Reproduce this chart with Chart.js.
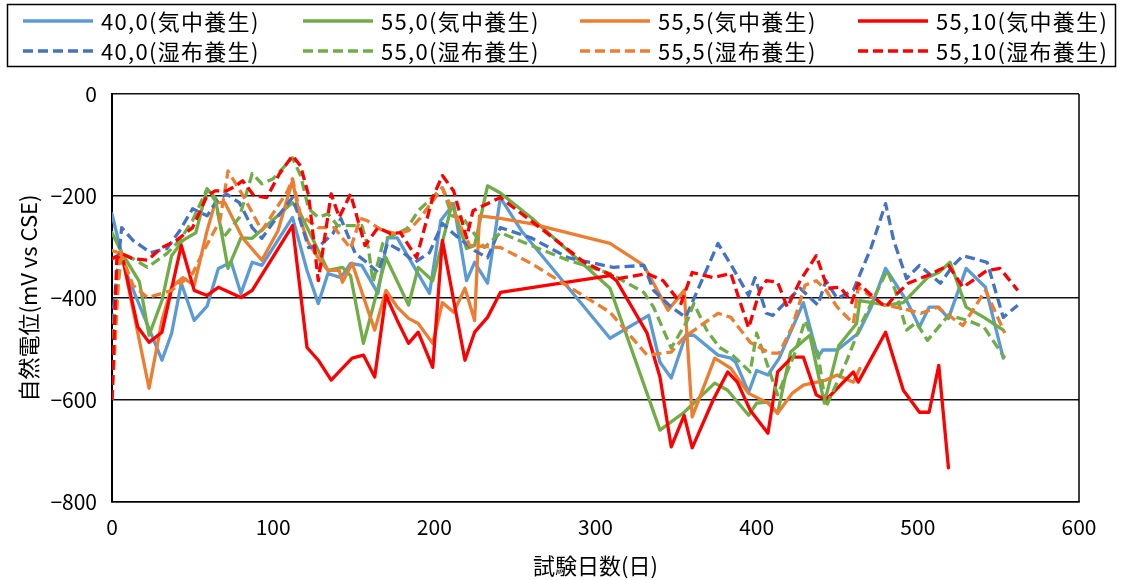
<!DOCTYPE html>
<html><head><meta charset="utf-8">
<script src="https://cdn.jsdelivr.net/npm/chart.js@4/dist/chart.umd.min.js"></script>
<style>html,body{margin:0;padding:0;background:#fff;}#wrap{width:1121px;height:580px;}</style>
</head><body><div id="wrap"><canvas id="c" width="1121" height="580"></canvas></div>
<script>
// ---- data (days, potential mV vs CSE) ----
const days_40_0_air = [0,5,10,31,37,43,51,59,66,74,80,87,93,112,121,128,134,142,148,155,165,171,177,197,204,212,220,225,233,241,254,309,333,340,347,356,361,376,384,387,395,400,407,414,429,438,441,450,463,471,480,493,501,507,513,519,530,542,553];
const vals_40_0_air = [-235,-301,-360,-522,-469,-371,-444,-416,-342,-330,-391,-330,-336,-242,-346,-411,-352,-360,-332,-336,-391,-282,-282,-391,-248,-215,-366,-330,-371,-203,-268,-479,-434,-526,-557,-473,-473,-512,-518,-526,-585,-542,-551,-518,-409,-516,-502,-502,-469,-418,-342,-405,-457,-418,-418,-440,-342,-379,-518];

const days_55_0_air = [0,6,17,23,31,37,44,52,59,64,72,80,87,112,117,134,143,148,156,170,184,190,199,211,220,225,233,241,260,309,340,355,374,382,395,400,407,413,421,433,442,451,462,464,481,491,506,513,520,530,541,553];
const vals_55_0_air = [-272,-311,-368,-473,-405,-317,-287,-272,-186,-203,-342,-282,-283,-213,-235,-346,-340,-356,-489,-321,-414,-340,-366,-215,-303,-297,-180,-194,-242,-381,-659,-624,-567,-581,-630,-606,-604,-626,-506,-473,-606,-493,-450,-405,-414,-409,-360,-350,-330,-418,-438,-463];

const days_55_5_air = [0,6,23,31,37,44,51,59,64,70,81,93,103,112,117,122,129,134,141,143,149,163,170,177,184,190,199,205,212,219,225,228,241,260,309,330,345,355,360,374,384,395,407,413,422,429,443,450,460,464];
const vals_55_5_air = [-307,-313,-577,-444,-379,-360,-375,-268,-213,-213,-282,-326,-268,-170,-248,-293,-326,-346,-346,-369,-332,-463,-385,-418,-440,-450,-489,-409,-428,-381,-444,-239,-244,-254,-293,-336,-424,-385,-633,-518,-538,-587,-606,-626,-587,-571,-561,-551,-565,-538];

const days_55_10_air = [0,6,16,23,31,43,51,59,66,80,87,112,121,128,136,142,149,156,163,170,177,184,190,199,205,219,225,233,241,309,313,332,340,347,355,360,373,382,388,396,407,413,422,429,437,443,460,463,480,491,501,507,513,519];
const vals_55_10_air = [-323,-313,-457,-487,-467,-297,-385,-395,-379,-399,-385,-258,-497,-522,-561,-541,-518,-512,-555,-395,-444,-489,-467,-536,-287,-522,-467,-438,-389,-356,-366,-469,-555,-692,-630,-694,-600,-545,-565,-620,-665,-545,-516,-516,-590,-600,-545,-565,-467,-581,-624,-624,-532,-733];

const days_40_0_wet = [0,6,13,24,34,42,50,59,65,71,79,87,93,100,112,117,122,129,137,142,151,158,165,171,179,188,197,205,212,225,233,241,260,283,311,330,336,347,356,376,385,395,399,406,410,419,427,438,443,450,460,471,480,485,493,501,514,522,528,543,553,562];
const vals_40_0_wet = [-450,-262,-287,-311,-303,-268,-225,-239,-209,-196,-213,-262,-283,-252,-203,-250,-301,-297,-274,-244,-313,-330,-350,-293,-307,-330,-311,-254,-274,-307,-321,-262,-282,-321,-340,-336,-385,-418,-438,-293,-340,-395,-360,-430,-434,-405,-381,-414,-366,-401,-385,-301,-215,-287,-362,-336,-371,-336,-317,-330,-438,-414];

const days_55_0_wet = [0,6,13,22,34,42,50,59,64,69,74,79,87,93,100,112,117,122,128,134,140,148,155,159,162,168,171,183,190,205,211,218,231,241,260,283,309,330,336,347,357,361,369,377,385,396,400,413,424,430,438,443,456,465,481,486,493,499,506,519,531,541,554];
const vals_55_0_wet = [-480,-313,-323,-340,-313,-287,-248,-186,-209,-282,-262,-242,-156,-176,-166,-125,-160,-225,-242,-235,-258,-258,-258,-301,-369,-293,-282,-264,-229,-184,-239,-244,-301,-272,-297,-326,-352,-389,-418,-498,-444,-411,-463,-497,-512,-545,-469,-590,-506,-444,-508,-614,-522,-450,-346,-385,-463,-448,-483,-434,-444,-457,-518];

const days_55_5_wet = [0,5,13,22,31,37,50,56,67,72,82,93,109,112,117,128,138,148,154,158,168,177,184,191,205,211,222,241,260,309,332,347,355,376,384,396,408,414,422,430,437,443,450,460,463,470,479,490,502,512,528,542,554];
const vals_55_5_wet = [-600,-307,-375,-399,-391,-385,-352,-313,-248,-151,-203,-268,-190,-166,-238,-262,-262,-303,-244,-248,-268,-274,-268,-244,-184,-225,-297,-301,-332,-428,-512,-506,-477,-430,-438,-487,-508,-508,-457,-375,-366,-385,-418,-450,-379,-395,-414,-420,-430,-418,-454,-385,-469];

const days_55_10_wet = [0,3,6,13,22,31,40,50,59,64,71,77,81,88,96,104,112,117,122,128,136,141,148,157,165,173,179,189,199,205,212,220,224,233,241,268,293,314,332,342,353,360,373,384,388,395,402,406,413,419,427,437,444,452,459,463,470,480,486,494,506,519,528,543,551,562];
const vals_55_10_wet = [-600,-323,-313,-323,-326,-301,-287,-262,-199,-190,-190,-180,-170,-199,-203,-156,-121,-141,-199,-366,-196,-242,-196,-297,-262,-274,-272,-321,-203,-160,-190,-282,-229,-215,-203,-268,-330,-362,-352,-366,-411,-350,-360,-352,-391,-459,-385,-366,-369,-418,-366,-317,-381,-379,-409,-371,-391,-418,-395,-371,-356,-336,-379,-346,-342,-385];

const seriesLabels = ['40,0(気中養生)','55,0(気中養生)','55,5(気中養生)','55,10(気中養生)','40,0(湿布養生)','55,0(湿布養生)','55,5(湿布養生)','55,10(湿布養生)'];
const xTicks = [0,100,200,300,400,500,600];
const yTicks = [0,-200,-400,-600,-800];
const xTitle = '試験日数(日)';
const yTitle = '自然電位(mV vs CSE)';

// ---- styles ----
const colors = ['#5B9BD5','#70AD47','#ED7D31','#FF0000','#4472C4','#70AD47','#ED7D31','#FF0000'];
const dashed = [false,false,false,false,true,true,true,true];
const dayArr = [days_40_0_air,days_55_0_air,days_55_5_air,days_55_10_air,days_40_0_wet,days_55_0_wet,days_55_5_wet,days_55_10_wet];
const valArr = [vals_40_0_air,vals_55_0_air,vals_55_5_air,vals_55_10_air,vals_40_0_wet,vals_55_0_wet,vals_55_5_wet,vals_55_10_wet];
const FONT = '"Noto Sans CJK JP", "Noto Sans", sans-serif';

const datasets = seriesLabels.map((lab,i)=>({
  label: lab,
  data: dayArr[i].map((d,j)=>({x:d,y:valArr[i][j]})),
  borderColor: colors[i],
  backgroundColor: colors[i],
  borderWidth: 3.3,
  borderDash: dashed[i] ? [10,5] : [],
  borderJoinStyle: 'round',
  borderCapStyle: dashed[i] ? 'butt' : 'round',
  pointRadius: 0,
  tension: 0,
  fill: false,
  order: 7 - i
}));

const frame = {
  id: 'frame',
  beforeDatasetsDraw(chart){
    const {ctx, chartArea:a} = chart;
    ctx.save();
    ctx.strokeStyle = '#000';
    ctx.lineWidth = 1.5;
    ctx.beginPath();
    ctx.moveTo(a.right, a.top); ctx.lineTo(a.right, a.bottom);
    ctx.stroke();
    ctx.restore();
  }
};

const legendBox = {
  id: 'legendBox',
  afterDraw(chart){
    const ctx = chart.ctx;
    ctx.save();
    ctx.strokeStyle = '#000';
    ctx.lineWidth = 1.5;
    ctx.strokeRect(7.5, 4.5, 1108, 62);
    const xs = [23, 303, 580, 858];
    const ys = [21, 51];
    ctx.font = '22px ' + FONT;
    ctx.textBaseline = 'middle';
    ctx.textAlign = 'left';
    try { ctx.letterSpacing = '1.3px'; } catch(e) {}
    chart.data.datasets.forEach((ds,i)=>{
      const col = i % 4, row = Math.floor(i/4);
      const x = xs[col], y = ys[row];
      ctx.strokeStyle = ds.borderColor;
      ctx.lineWidth = 3.3;
      ctx.setLineDash(ds.borderDash);
      ctx.lineCap = 'butt';
      ctx.beginPath(); ctx.moveTo(x, y); ctx.lineTo(x+70, y); ctx.stroke();
      ctx.setLineDash([]);
      ctx.fillStyle = '#000';
      ctx.fillText(ds.label, x+78, y+1);
    });
    ctx.restore();
  }
};

new Chart(document.getElementById('c'), {
  type: 'line',
  data: { datasets },
  plugins: [frame, legendBox],
  options: {
    responsive: false,
    animation: false,
    events: [],
    layout: { padding: { top: 94, left: 0, right: 42, bottom: 0 } },
    plugins: { legend: { display: false }, tooltip: { enabled: false } },
    scales: {
      x: {
        type: 'linear', min: 0, max: 600,
        afterBuildTicks(s){ s.ticks = xTicks.map(v=>({value:v})); },
        afterFit(s){ s.height = 78; },
        grid: { display: false, drawTicks: false },
        border: { display: true, color: '#000', width: 1.5 },
        ticks: { padding: 12, color: '#000', font: { family: FONT, size: 21 } },
        title: { display: true, text: xTitle, color: '#000', padding: { top: 0, bottom: 1 }, font: { family: FONT, size: 22 } }
      },
      y: {
        type: 'linear', min: -800, max: 0,
        afterBuildTicks(s){ s.ticks = yTicks.map(v=>({value:v})); },
        afterFit(s){ s.width = 112; },
        grid: { color: '#111', lineWidth: 1.5, drawTicks: false },
        border: { display: true, color: '#000', width: 2 },
        ticks: { padding: 15, color: '#000', font: { family: FONT, size: 21 },
          callback: v => v < 0 ? '\u2212' + Math.abs(v) : String(v) },
        title: { display: true, text: yTitle, color: '#000', padding: { top: 15, bottom: 0 }, font: { family: FONT, size: 22 } }
      }
    }
  }
});
</script></body></html>
